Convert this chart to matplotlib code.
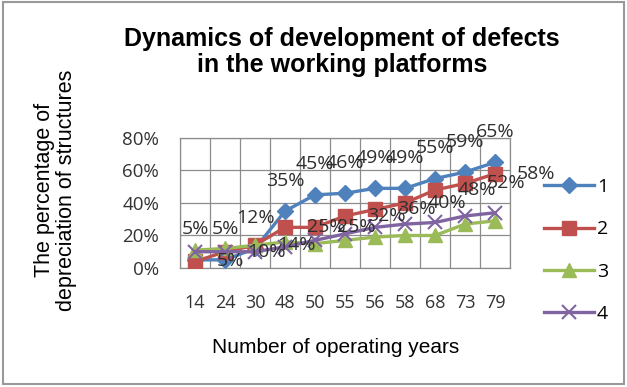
import numpy as np
import matplotlib.pyplot as plt
from matplotlib.patches import Rectangle

plt.rcParams['font.family'] = ['Liberation Sans', 'DejaVu Sans']
num_font = ['Open Sans', 'DejaVu Sans']

years = ['14', '24', '30', '48', '50', '55', '56', '58', '68', '73', '79']
s1 = [5, 5, 12, 35, 45, 46, 49, 49, 55, 59, 65]
s2 = [4, 10, 14, 25, 25, 32, 36, 40, 48, 52, 58]
s3 = [11, 12, 14, 16, 15, 17, 19, 20, 20, 27, 29]
s4 = [10, 10, 10, 13, 17, 21, 25, 27, 28, 32, 34]
labels1 = ['5%', '5%', '12%', '35%', '45%', '46%', '49%', '49%', '55%', '59%', '65%']
labels2 = ['5%', '10%', '14%', '25%', '25%', '32%', '36%', '40%', '48%', '52%', '58%']

fig = plt.figure(figsize=(6.27, 3.87), dpi=100)
ax = fig.add_axes([0.2871, 0.3075, 0.5263, 0.336])
x = np.arange(len(years))

ax.plot(x, s1, color='#4F81BD', marker='D', ms=8.5, lw=2.4, label='1', zorder=3)
ax.plot(x, s2, color='#C0504D', marker='s', ms=10, lw=2.4, label='2', zorder=3)
ax.plot(x, s3, color='#9BBB59', marker='^', ms=10, lw=2.4, label='3', zorder=3)
ax.plot(x, s4, color='#8064A2', marker='x', ms=10, mew=1.5, lw=2.4, label='4', zorder=3)

# data labels: series 1 above the points, series 2 to the right
tf = 14
for i, v in enumerate(s1):
    ax.annotate(labels1[i], (x[i], v), xytext=(0, 22), textcoords='offset points',
                ha='center', va='center', fontsize=tf, family=num_font,
                color='#2e2e2e', zorder=5, annotation_clip=False)
for i, v in enumerate(s2):
    ax.annotate(labels2[i], (x[i], v), xytext=(16, 0), textcoords='offset points',
                ha='left', va='center', fontsize=tf, family=num_font,
                color='#2e2e2e', zorder=5, annotation_clip=False)

ax.set_xlim(-0.5, len(years) - 0.5)
ax.set_ylim(0, 80)
ax.set_yticks([0, 20, 40, 60, 80])
ax.set_yticklabels(['0%', '20%', '40%', '60%', '80%'], family=num_font, fontsize=13.5, color='#333333')
ax.set_xticks(x)
ax.set_xticklabels(years, family=num_font, fontsize=13, color='#333333')
ax.set_xticks(np.arange(len(years) + 1) - 0.5, minor=True)
ax.grid(True, which='major', axis='y', color='#8c8c8c', lw=0.9)
ax.grid(True, which='minor', axis='x', color='#8c8c8c', lw=0.9)
ax.tick_params(which='both', length=0)
ax.tick_params(axis='x', pad=19)
ax.tick_params(axis='y', pad=15)
for s in ax.spines.values():
    s.set_color('#8c8c8c')
    s.set_linewidth(0.9)
ax.set_axisbelow(True)

fig.text(0.536, 0.101, 'Number of operating years', ha='center', va='center', fontsize=15)
fig.text(0.088, 0.509, 'The percentage of\ndepreciation of structures', rotation=90,
         ha='center', va='center', fontsize=15.5, linespacing=1.05)
fig.text(0.545, 0.866, 'Dynamics of development of defects\nin the working platforms',
         ha='center', va='center', fontsize=18, fontweight='bold', linespacing=1.1)

fig.legend(loc='upper left', bbox_to_anchor=(0.840, 0.585), frameon=False,
           labelspacing=1.245, handlelength=2.57, handletextpad=0.15,
           prop={'family': num_font, 'size': 14})

fig.patches.append(Rectangle((0.005, 0.008), 0.99, 0.987, transform=fig.transFigure,
                             fill=False, edgecolor='#999999', lw=1.5))

fig.savefig('out.png', dpi=100)
